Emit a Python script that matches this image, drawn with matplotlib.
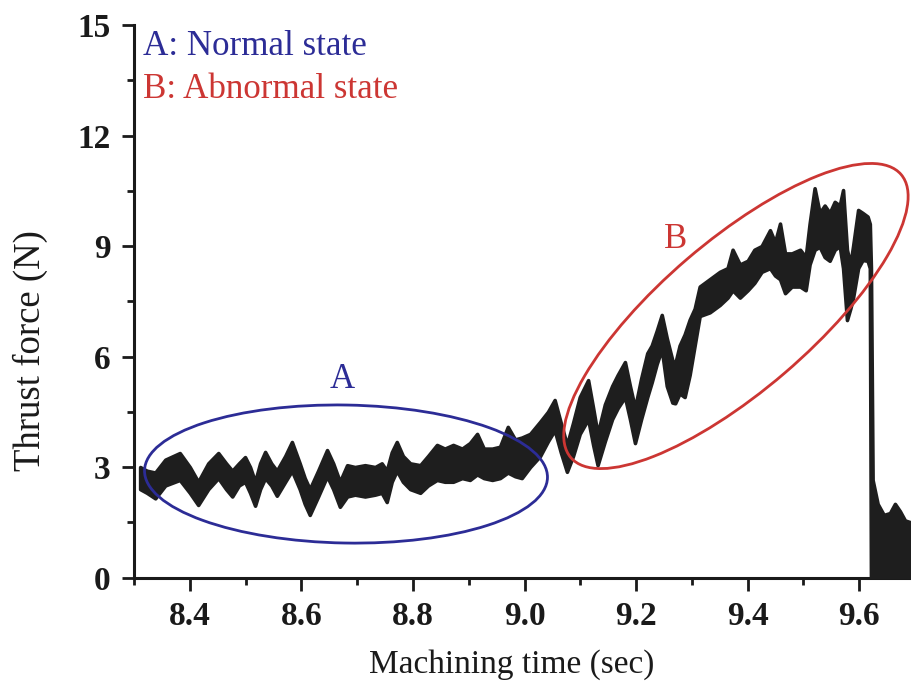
import matplotlib
matplotlib.use("Agg")
import matplotlib.pyplot as plt
from matplotlib.patches import Ellipse
from matplotlib.transforms import IdentityTransform, ScaledTranslation
from matplotlib.ticker import MultipleLocator

plt.rcParams['font.family'] = ['Liberation Serif', 'DejaVu Serif']

# ---- data (time in sec, band of thrust force in N) ----
time = [8.311, 8.323, 8.338, 8.356, 8.382, 8.400, 8.415, 8.433, 8.451, 8.465,
        8.476, 8.488, 8.499, 8.508, 8.517, 8.526, 8.535, 8.546, 8.556, 8.571,
        8.583, 8.597, 8.606, 8.615, 8.630, 8.646, 8.657, 8.669, 8.682, 8.696,
        8.714, 8.732, 8.744, 8.753, 8.762, 8.771, 8.782, 8.795, 8.813, 8.827,
        8.843, 8.857, 8.872, 8.888, 8.902, 8.915, 8.927, 8.942, 8.956, 8.970,
        8.983, 8.995, 9.010, 9.028, 9.042, 9.054, 9.065, 9.076, 9.087, 9.099,
        9.114, 9.123, 9.131, 9.144, 9.157, 9.167, 9.180, 9.189, 9.198, 9.209,
        9.220, 9.228, 9.237, 9.246, 9.255, 9.265, 9.270, 9.278, 9.287, 9.296,
        9.305, 9.314, 9.332, 9.350, 9.364, 9.373, 9.386, 9.400, 9.412, 9.425,
        9.440, 9.449, 9.458, 9.467, 9.479, 9.494, 9.504, 9.511, 9.520, 9.529,
        9.538, 9.547, 9.556, 9.565, 9.571, 9.578, 9.584, 9.589, 9.598, 9.606,
        9.615, 9.619, 9.621, 9.624, 9.633, 9.644, 9.655, 9.664, 9.673, 9.682,
        9.692]
force_low = [2.40, 2.30, 2.15, 2.50, 2.65, 2.30, 1.97, 2.40, 2.70, 2.40,
             2.20, 2.50, 2.60, 2.30, 1.95, 2.40, 2.70, 2.50, 2.22, 2.60,
             2.90, 2.40, 2.00, 1.70, 2.20, 2.75, 2.40, 1.92, 2.20, 2.25,
             2.20, 2.25, 2.30, 2.05, 2.60, 2.90, 2.60, 2.40, 2.30, 2.50,
             2.65, 2.60, 2.60, 2.70, 2.65, 2.80, 2.70, 2.65, 2.70, 2.85,
             2.75, 2.70, 3.00, 3.30, 3.70, 4.00, 3.40, 2.87, 3.30, 3.90,
             4.30, 3.60, 3.05, 3.70, 4.30, 4.60, 4.90, 4.30, 3.65, 4.30,
             4.90, 5.30, 5.80, 6.20, 5.20, 4.75, 4.73, 5.00, 4.90, 5.50,
             6.30, 7.10, 7.20, 7.40, 7.60, 7.80, 7.60, 7.80, 8.00, 8.30,
             8.40, 8.20, 8.10, 7.72, 7.90, 7.90, 7.80, 8.50, 8.90, 8.98,
             8.70, 8.60, 8.90, 9.00, 8.40, 6.99, 7.30, 7.60, 8.40, 8.62,
             8.60, 8.40, 0.00, 0.00, 0.00, 0.00, 0.00, 0.00, 0.00, 0.00,
             0.00]
force_high = [3.00, 2.90, 2.85, 3.20, 3.38, 3.00, 2.60, 3.10, 3.38, 3.10,
              2.90, 3.10, 3.27, 3.00, 2.60, 3.10, 3.41, 3.10, 2.90, 3.30,
              3.68, 3.10, 2.70, 2.40, 2.90, 3.46, 3.10, 2.60, 3.05, 3.00,
              3.05, 3.00, 3.10, 2.90, 3.40, 3.68, 3.30, 3.10, 3.05, 3.30,
              3.60, 3.50, 3.60, 3.50, 3.65, 3.90, 3.50, 3.50, 3.55, 4.09,
              3.75, 3.80, 3.90, 4.23, 4.50, 4.82, 4.20, 3.60, 4.20, 4.90,
              5.36, 4.60, 3.90, 4.70, 5.20, 5.50, 5.85, 5.20, 4.60, 5.40,
              6.09, 6.30, 6.70, 7.13, 6.50, 5.90, 5.80, 6.30, 6.60, 7.00,
              7.30, 7.90, 8.10, 8.30, 8.40, 8.90, 8.50, 8.60, 8.90, 9.00,
              9.43, 9.10, 9.61, 8.80, 8.80, 8.90, 8.70, 9.60, 10.57, 9.90,
              10.10, 9.90, 10.20, 10.10, 10.52, 8.90, 8.50, 9.00, 9.98, 9.90,
              9.80, 9.60, 8.40, 2.65, 2.00, 1.70, 1.75, 2.00, 1.80, 1.55,
              1.50]

xticks = [8.4, 8.6, 8.8, 9.0, 9.2, 9.4, 9.6]
xtick_labels = ['8.4', '8.6', '8.8', '9.0', '9.2', '9.4', '9.6']
yticks = [0, 3, 6, 9, 12, 15]
ytick_labels = ['0', '3', '6', '9', '12', '15']

assert len(time) == len(force_low) == len(force_high)

fig = plt.figure(figsize=(9.11, 6.9), dpi=100)
ax = fig.add_axes([0.1471, 0.163, 0.8573, 0.8007])

ax.fill_between(time, force_low, force_high, facecolor='#1e1e1e',
                edgecolor='#1e1e1e', linewidth=2.6, joinstyle='round', zorder=3)

ax.set_xlim(8.3, 9.7)
ax.set_ylim(0, 15)

for s in ['top', 'right']:
    ax.spines[s].set_visible(False)
for s in ['left', 'bottom']:
    ax.spines[s].set_linewidth(2.2)
    ax.spines[s].set_color('#1a1a1a')

ax.set_xticks(xticks, labels=xtick_labels)
ax.set_yticks(yticks, labels=ytick_labels)
ax.xaxis.set_minor_locator(MultipleLocator(0.1))
ax.yaxis.set_minor_locator(MultipleLocator(1.5))
ax.tick_params(which='major', direction='out', length=9, width=2.0,
               color='#1a1a1a', labelsize=24, pad=8)
ax.tick_params(which='minor', direction='out', length=5, width=2.0,
               color='#1a1a1a')
for lab in ax.get_xticklabels() + ax.get_yticklabels():
    lab.set_fontweight('bold')
    lab.set_color('#1a1a1a')

ax.set_xlabel('Machining time (sec)', fontsize=24, color='#1a1a1a')
ax.set_ylabel('Thrust force (N)', fontsize=26.5, color='#1a1a1a')
ax.xaxis.set_label_coords(0.483, -0.173, transform=ax.transAxes)
ax.xaxis.label.set_va('baseline')
ax.yaxis.set_label_coords(-0.133, 0.41, transform=ax.transAxes)
ax.yaxis.label.set_va('center')

blue = '#2c2c96'
red = '#cc3633'

# ellipses: centre in data units, size in pixels
def pix_ellipse(cx, cy, w, h, ang, color):
    tr = IdentityTransform() + ScaledTranslation(cx, cy, ax.transData)
    e = Ellipse((0, 0), w, h, angle=ang, transform=tr, fill=False,
                edgecolor=color, linewidth=2.0, zorder=4, clip_on=False)
    ax.add_artist(e)

pix_ellipse(8.680, 2.81, 403, 138, -1.0, blue)
pix_ellipse(9.379, 7.10, 435, 150, 40.6, red)

ax.text(8.316, 14.19, 'A: Normal state', color=blue, fontsize=25.2,
        ha='left', va='baseline')
ax.text(8.316, 13.02, 'B: Abnormal state', color=red, fontsize=25.2,
        ha='left', va='baseline')
ax.text(8.673, 5.14, 'A', color=blue, fontsize=25, ha='center', va='baseline')
ax.text(9.270, 8.95, 'B', color=red, fontsize=25, ha='center', va='baseline')

fig.savefig('out.png', dpi=100)
